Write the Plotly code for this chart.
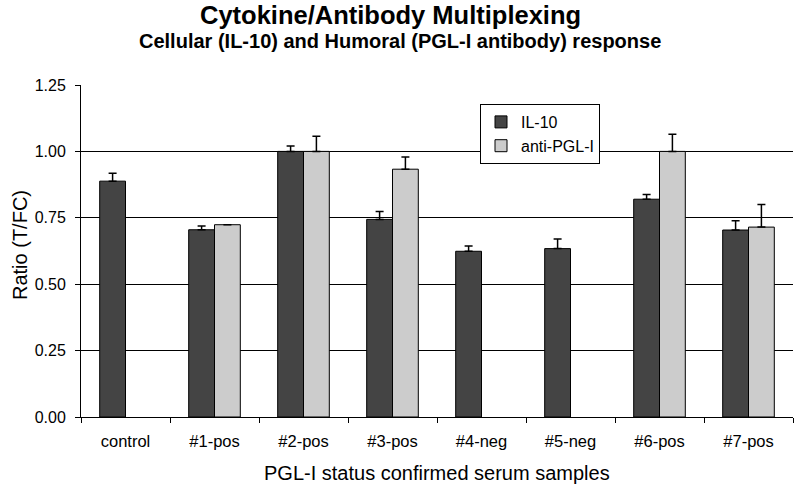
import plotly.graph_objects as go

categories = ["control", "#1-pos", "#2-pos", "#3-pos", "#4-neg", "#5-neg", "#6-pos", "#7-pos"]
il10 = [0.888, 0.705, 1.00, 0.744, 0.624, 0.634, 0.82, 0.704]
il10_err = [0.030, 0.014, 0.020, 0.030, 0.020, 0.036, 0.018, 0.035]
anti_pgl = [None, 0.724, 1.00, 0.933, None, None, 1.00, 0.715]
anti_pgl_err = [0, 0, 0.057, 0.046, 0, 0, 0.065, 0.085]
y_ticks = [0, 0.25, 0.5, 0.75, 1.0, 1.25]

FONT = "Liberation Sans, Arial, sans-serif"

L, R, T, B = 81, 7, 85, 75
W, H = 800, 492
PW, PH = W - L - R, H - T - B


def px_x(x):
    return (x - L) / PW


def px_y(y):
    return (H - B - y) / PH


fig = go.Figure()
fig.add_trace(go.Bar(
    x=categories, y=il10, name="IL-10",
    marker=dict(color="#444444", line=dict(color="black", width=1)),
    error_y=dict(type="data", array=il10_err, symmetric=False, arrayminus=[0] * 8,
                 color="black", thickness=1.5, width=4),
))
fig.add_trace(go.Bar(
    x=categories, y=anti_pgl, name="anti-PGL-I",
    marker=dict(color="#cccccc", line=dict(color="black", width=1)),
    error_y=dict(type="data", array=anti_pgl_err, symmetric=False, arrayminus=[0] * 8,
                 color="black", thickness=1.5, width=4),
))

fig.update_layout(
    width=W, height=H,
    margin=dict(l=L, r=R, t=T, b=B, autoexpand=False),
    paper_bgcolor="white", plot_bgcolor="white",
    font=dict(family=FONT, color="black", size=16),
    barmode="group", bargap=0.42, bargroupgap=0,
    showlegend=True,
    legend=dict(x=px_x(480), y=px_y(104), xanchor="left", yanchor="top",
                bgcolor="white", bordercolor="black", borderwidth=1,
                font=dict(size=16, family=FONT), tracegroupgap=8,
                itemwidth=30),
    xaxis=dict(
        showline=True, linecolor="black", linewidth=1,
        ticks="outside", tickson="boundaries", ticklen=5, tickcolor="black",
        tickfont=dict(size=16.5), showgrid=False, ticklabelstandoff=9,
    ),
    yaxis=dict(
        range=[0, 1.25], tickvals=y_ticks, tickformat=".2f",
        showline=True, linecolor="black", linewidth=1,
        ticks="outside", ticklen=5, tickcolor="black",
        showgrid=True, gridcolor="black", gridwidth=1, zeroline=False,
        tickfont=dict(size=16), ticklabelstandoff=6,
    ),
    annotations=[
        dict(text="<b>Cytokine/Antibody Multiplexing</b>", xref="paper", yref="paper",
             x=px_x(390), y=px_y(15), xanchor="center", yanchor="middle",
             showarrow=False, font=dict(size=25.5)),
        dict(text="<b>Cellular (IL-10) and Humoral (PGL-I antibody) response</b>",
             xref="paper", yref="paper", x=px_x(400), y=px_y(41),
             xanchor="center", yanchor="middle", showarrow=False, font=dict(size=20)),
        dict(text="PGL-I status confirmed serum samples", xref="paper", yref="paper",
             x=px_x(437), y=px_y(473), xanchor="center", yanchor="middle",
             showarrow=False, font=dict(size=20)),
        dict(text="Ratio (T/FC)", xref="paper", yref="paper",
             x=px_x(20), y=px_y(245), xanchor="center", yanchor="middle",
             textangle=-90, showarrow=False, font=dict(size=20)),
    ],
)

fig.write_html("out.html", config={"displayModeBar": False},
               post_script="document.body.style.margin='0';")
